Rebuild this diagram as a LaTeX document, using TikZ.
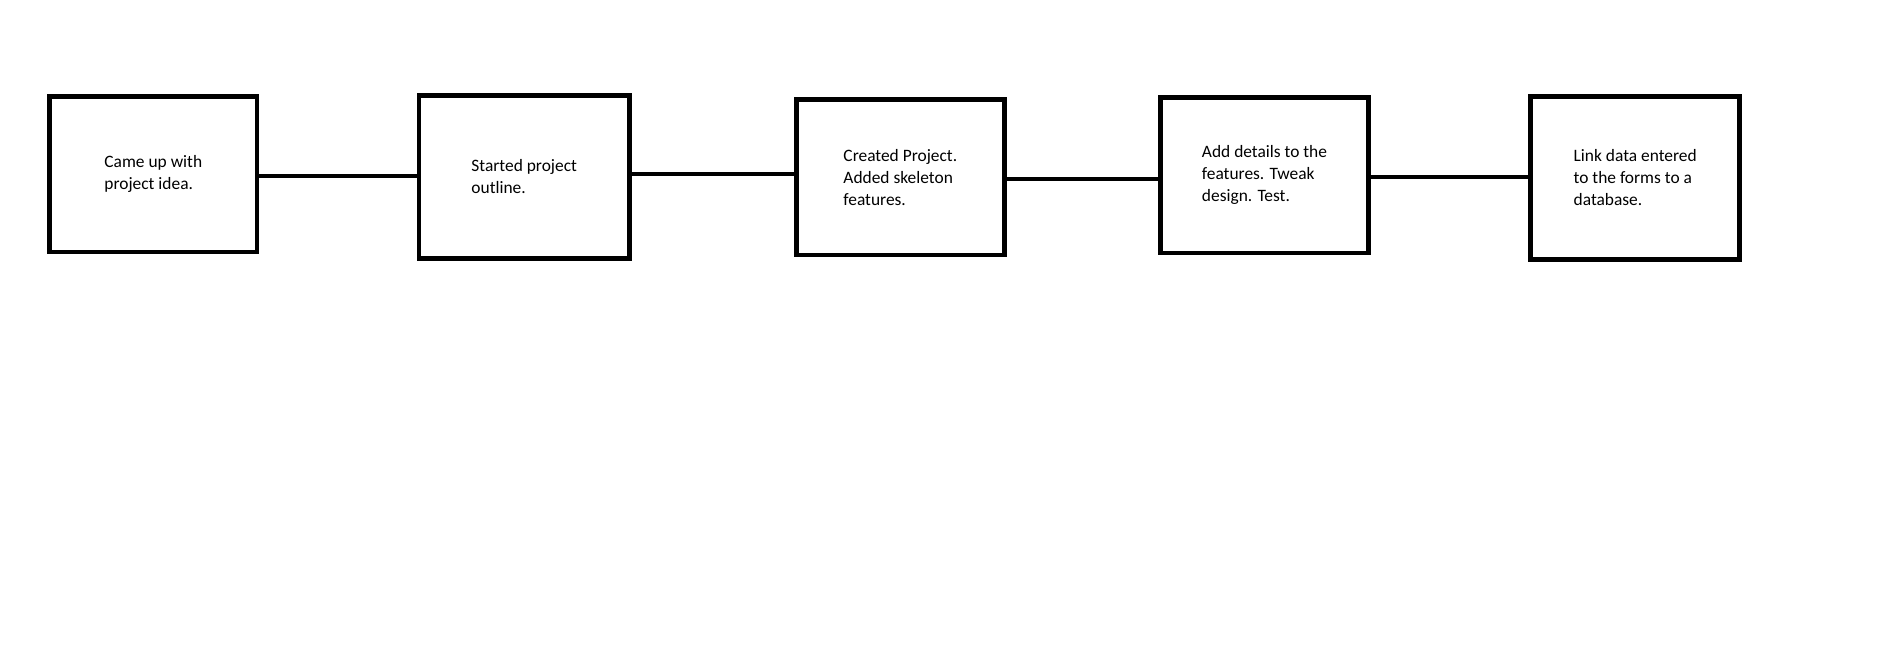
\documentclass[tikz,border=0pt]{standalone}
\usepackage{fontspec}
\setmainfont{Carlito}

\begin{document}
\begin{tikzpicture}[x=0.5pt, y=-0.5pt, phase/.style = {draw, rectangle, line width=2.35pt, align=left, inner sep=0pt, font=\fontsize{8.7}{11}\selectfont}]
            \useasboundingbox (0,0) rectangle (1900,648);
            \node[phase, minimum width=103.6pt, minimum height=77.6pt] (1) at (153.3,174.3) {Came up with\\project idea.};
            \node[phase, minimum width=105.1pt, minimum height=81.3pt] (2) at (524.2,177) {Started project\\outline.};
            \node[phase, minimum width=104pt, minimum height=77.6pt] (3) at (900.3,177.3) {Created Project.\\Added skeleton\\features.};
            \node[phase, minimum width=103.8pt, minimum height=77.8pt] (4) at (1264.5,175.2) {Add details to the\\features. Tweak\\design. Test.};
            \node[phase, minimum width=104.5pt, minimum height=81.3pt] (5) at (1635.2,178) {Link data entered\\to the forms to a\\database.};
            \draw[line width=2pt] ([yshift=-1pt]1.east) -- ([yshift=-1pt]1.east -| 2.west);
            \draw[line width=2pt] ([yshift=1.6pt]2.east) -- ([yshift=1.6pt]2.east -| 3.west);
            \draw[line width=2pt] ([yshift=-1pt]3.east) -- ([yshift=-1pt]3.east -| 4.west);
            \draw[line width=2pt] ([yshift=-0.9pt]4.east) -- ([yshift=-0.9pt]4.east -| 5.west);
        \end{tikzpicture}
\end{document}
